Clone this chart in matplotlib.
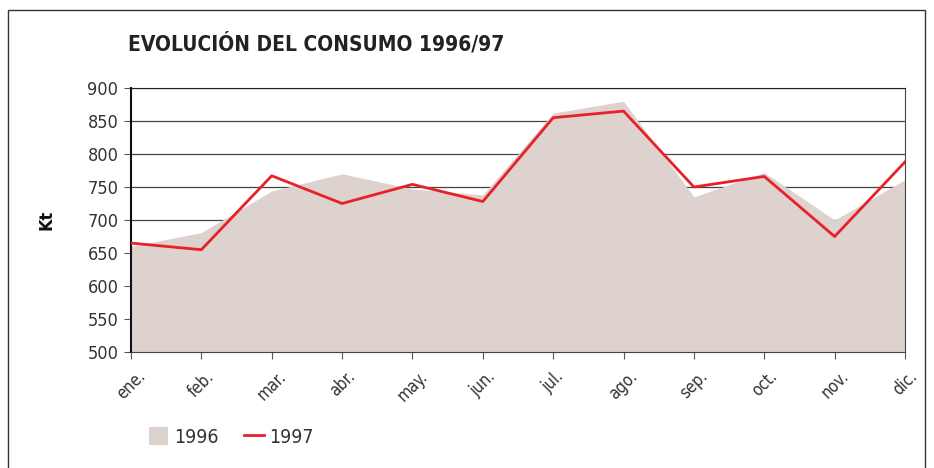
import matplotlib
matplotlib.use("Agg")
import matplotlib.pyplot as plt
from matplotlib.patches import Rectangle, Patch
from matplotlib.lines import Line2D

months = ["ene.", "feb.", "mar.", "abr.", "may.", "jun.",
          "jul.", "ago.", "sep.", "oct.", "nov.", "dic."]
consumo_1996 = [660, 681, 744, 770, 747, 738, 862, 880, 735, 772, 700, 761]
consumo_1997 = [665, 655, 767, 725, 754, 728, 855, 865, 750, 766, 675, 788]
y_ticks = [500, 550, 600, 650, 700, 750, 800, 850, 900]

FILL = "#ddd2cd"
RED = "#e8202a"

# condensed face, closest thing to the narrow grotesque of the original
plt.rcParams["font.family"] = ["DejaVu Sans"]
plt.rcParams["font.stretch"] = "condensed"

fig = plt.figure(figsize=(9.34, 4.68), dpi=100)
ax = fig.add_axes([131 / 934, 1 - 352 / 468, 774 / 934, 264 / 468])

x = list(range(len(months)))
ax.fill_between(x, 500, consumo_1996, color=FILL, lw=0, zorder=1)
ax.plot(x, consumo_1997, color=RED, lw=2, zorder=3)

ax.set_xlim(0, len(months) - 1)
ax.set_ylim(500, 900)
ax.set_yticks(y_ticks)
ax.set_xticks(x)
ax.set_xticklabels(months, rotation=45, ha="center", va="top", fontsize=12,
                   color="#333333")
ax.tick_params(axis="y", labelsize=13, labelcolor="#333333", length=5,
               color="#555555", pad=4)
ax.tick_params(axis="x", length=5, color="#555555", pad=6)
ax.yaxis.grid(True, color="#444444", lw=0.9, zorder=0)
ax.set_axisbelow(True)

for side in ["left", "bottom", "right"]:
    ax.spines[side].set_color("#444444")
ax.spines["left"].set_color("#111111")
ax.spines["left"].set_linewidth(1.5)
ax.spines["top"].set_color("#222222")

ax.set_ylabel("Kt", fontsize=13, fontweight="bold", color="#111111")
ax.yaxis.set_label_coords(-0.097, 0.5)

fig.text(128 / 934, 1 - 44 / 468, "EVOLUCIÓN DEL CONSUMO 1996/97",
         fontsize=15, fontweight="bold", color="#222222", va="center")

# outer frame
fig.patches.append(Rectangle((8 / 934, -0.1), 917 / 934, 1.1 - 10 / 468,
                             transform=fig.transFigure, fill=False,
                             edgecolor="#333333", lw=1))

handles = [Patch(facecolor=FILL, edgecolor="none", label="1996"),
           Line2D([], [], color=RED, lw=2, label="1997")]
fig.legend(handles=handles, loc="center left",
           bbox_to_anchor=(149 / 934, 1 - 437 / 468), ncol=2, frameon=False,
           fontsize=14, handlelength=1.0, handleheight=1.0, handletextpad=0.3,
           columnspacing=1.3, borderpad=0, borderaxespad=0,
           labelcolor="#333333")

fig.savefig("out.png", dpi=100)
